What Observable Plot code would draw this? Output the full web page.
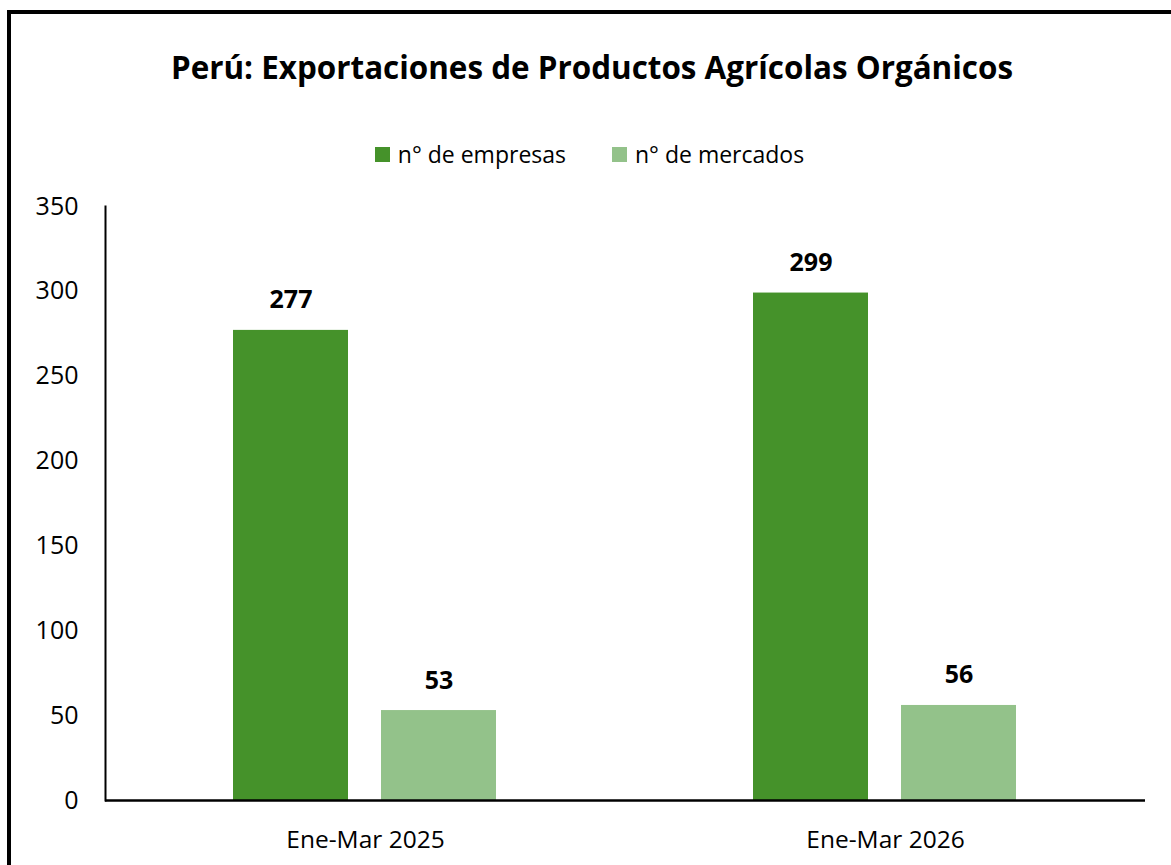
<!DOCTYPE html>
<html>
<head>
<meta charset="utf-8">
<script src="https://cdn.jsdelivr.net/npm/d3@7"></script>
<script src="https://cdn.jsdelivr.net/npm/@observablehq/plot@0.6"></script>
<style>
  html, body { margin: 0; padding: 0; background: #fff; overflow: hidden; width: 1171px; height: 865px; }
  #border { position: absolute; left: 7px; top: 10px; width: 1300px; height: 1000px; border: 4px solid #000; box-sizing: border-box; }
  #title { position: absolute; left: 0; top: 51px; width: 1184px; text-align: center; font-family: "Open Sans", sans-serif; font-weight: bold; font-size: 31.4px; line-height: 1; color: #000; }
  #legend { position: absolute; left: 0; top: 143px; width: 1179px; display: flex; justify-content: center; align-items: center; font-family: "Open Sans", sans-serif; font-size: 23px; line-height: 1; height: 23px; color: #000; }
  .item { display: flex; align-items: center; }
  .item + .item { margin-left: 46px; }
  .sw { width: 15px; height: 15px; margin-right: 8px; }
  #chart { position: absolute; left: 0; top: 180px; }
</style>
</head>
<body>
<div id="border"></div>
<div id="title"></div>
<div id="legend"></div>
<div id="chart"></div>
<script>
const titleText = "Perú: Exportaciones de Productos Agrícolas Orgánicos";
const periods = ["Ene-Mar 2025", "Ene-Mar 2026"];
const series = ["n° de empresas", "n° de mercados"];
const empresas = [277, 299];
const mercados = [53, 56];
const seriesColors = ["#45922A", "#93C28A"];
const yTicks = [0, 50, 100, 150, 200, 250, 300, 350];

const data = [];
periods.forEach((p, i) => {
  data.push({period: p, series: series[0], value: empresas[i]});
  data.push({period: p, series: series[1], value: mercados[i]});
});

document.getElementById("title").textContent = titleText;
const legend = document.getElementById("legend");
series.forEach((s, i) => {
  const item = document.createElement("div");
  item.className = "item";
  const sw = document.createElement("div");
  sw.className = "sw";
  sw.style.background = seriesColors[i];
  const lab = document.createElement("span");
  lab.textContent = s;
  item.appendChild(sw);
  item.appendChild(lab);
  legend.appendChild(item);
});

const chart = Plot.plot({
  width: 1171,
  height: 685,
  marginTop: 26,
  marginBottom: 65,
  marginLeft: 104,
  marginRight: 26,
  style: {fontFamily: "Open Sans, sans-serif", background: "transparent", color: "#000", overflow: "visible"},
  fx: {domain: periods, padding: 0, label: null},
  x: {domain: series, paddingInner: 0.22, paddingOuter: 0.857, axis: null},
  y: {domain: [0, 350], label: null},
  color: {domain: series, range: seriesColors},
  marks: [
    Plot.axisY({ticks: yTicks, tickSize: 0, tickPadding: 27, fontSize: 25, label: null}),
    Plot.axisFx({anchor: "bottom", tickSize: 0, tickPadding: 30, fontSize: 24.5, label: null}),
    Plot.barY(data, {fx: "period", x: "series", y: "value", fill: "series"}),
    Plot.frame({anchor: "left", facetAnchor: "left", stroke: "#000", strokeWidth: 2}),
    Plot.ruleY([0], {stroke: "#000", strokeWidth: 2.5}),
    Plot.text(data, {fx: "period", x: "series", y: "value", text: d => String(d.value), lineAnchor: "bottom", dy: -22, fontWeight: "bold", fontSize: 25, fill: "#000"})
  ]
});
document.getElementById("chart").appendChild(chart);
</script>
</body>
</html>
